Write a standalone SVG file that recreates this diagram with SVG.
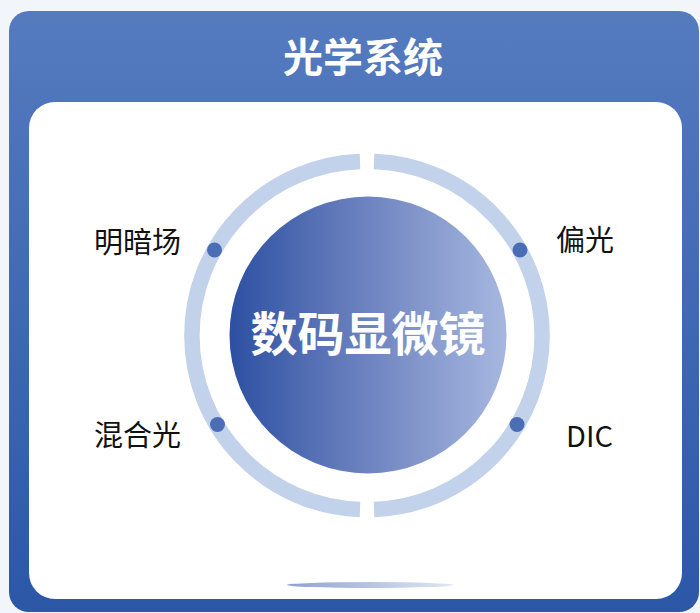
<svg xmlns="http://www.w3.org/2000/svg" width="700" height="613" viewBox="0 0 700 613">
  <defs>
    <linearGradient id="cardGrad" x1="0" y1="0" x2="0" y2="1">
      <stop offset="0" stop-color="#557bbf"/>
      <stop offset="1" stop-color="#2c57a7"/>
    </linearGradient>
    <linearGradient id="coreGrad" x1="0" y1="0" x2="1" y2="0">
      <stop offset="0" stop-color="#2d50a2"/>
      <stop offset="0.5" stop-color="#6e84c0"/>
      <stop offset="1" stop-color="#a6b7df"/>
    </linearGradient>
    <linearGradient id="shadowGrad" x1="0" y1="0" x2="1" y2="0">
      <stop offset="0" stop-color="#8ea2d2"/>
      <stop offset="1" stop-color="#dfe6f4"/>
    </linearGradient>
    <style>
      .label { font-family: "Noto Sans CJK SC", "Noto Sans", sans-serif; font-size: 29px; fill: #111111; }
      .ring { fill: none; stroke: #c2d2eb; stroke-width: 15.5; }
      .dot { fill: #4a6db5; }
    </style>
  </defs>
  <rect x="0" y="0" width="700" height="613" fill="#f2f5fa"/>
  <g id="card">
    <rect x="9" y="11" width="690" height="601" rx="20" fill="url(#cardGrad)"/>
    <rect x="29" y="102" width="653" height="497" rx="26" fill="#ffffff"/>
    <text x="363" y="72" text-anchor="middle" font-family="Noto Sans CJK SC, sans-serif" font-size="40" font-weight="bold" fill="#ffffff">光学系统</text>
  </g>
  <g id="ring">
    <path class="ring" d="M360,161.6 A174,174 0 0 0 360,509.4"/>
    <path class="ring" d="M374,161.6 A174,174 0 0 1 374,509.4"/>
  </g>
  <g id="core">
    <circle cx="368" cy="335" r="138.5" fill="url(#coreGrad)"/>
    <text x="368" y="351" text-anchor="middle" font-family="Noto Sans CJK SC, sans-serif" font-size="47" font-weight="bold" fill="#ffffff">数码显微镜</text>
  </g>
  <g id="connectors">
    <circle class="dot" cx="214.5" cy="250" r="7.5"/>
    <circle class="dot" cx="520" cy="250" r="7.5"/>
    <circle class="dot" cx="217.5" cy="424.5" r="7.5"/>
    <circle class="dot" cx="517" cy="424.5" r="7.5"/>
  </g>
  <g id="node-mingan"><text class="label" x="181" y="253" text-anchor="end">明暗场</text></g>
  <g id="node-pianguang"><text class="label" x="556" y="251" text-anchor="start">偏光</text></g>
  <g id="node-hunhe"><text class="label" x="181" y="446" text-anchor="end">混合光</text></g>
  <g id="node-dic"><text class="label" x="566" y="447" text-anchor="start">DIC</text></g>
  <ellipse id="shadow" cx="370" cy="585" rx="83" ry="3" fill="url(#shadowGrad)"/>
</svg>
